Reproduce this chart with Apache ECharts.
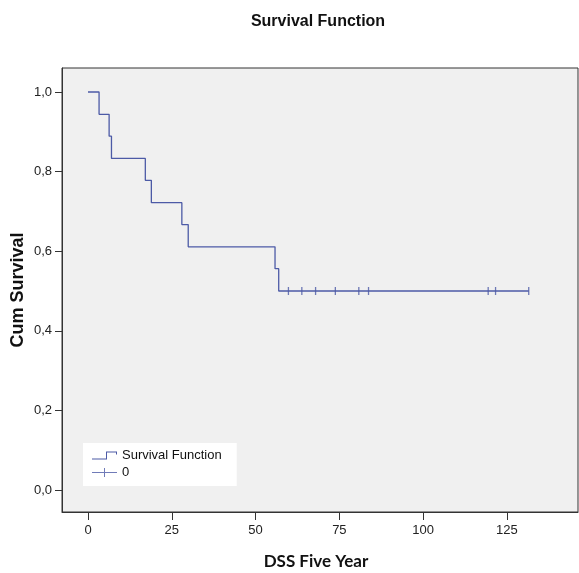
<!DOCTYPE html>
<html>
<head>
<meta charset="utf-8">
<script src="https://cdn.jsdelivr.net/npm/echarts@6/dist/echarts.min.js"></script>
<style>
html,body{margin:0;padding:0;background:#fff;}
#chart{width:579px;height:573px;}
</style>
</head>
<body>
<div id="chart"></div>
<script>
// Kaplan-Meier data
const startPoint = [0, 1.0];
const eventTimes = [3.3, 6.3, 7.0, 17.1, 18.9, 28.0, 29.9, 55.8, 56.9];
const survivalAfterEvent = [0.944, 0.889, 0.833, 0.778, 0.722, 0.667, 0.611, 0.556, 0.5];
const censorTimes = [59.8, 63.8, 67.9, 73.8, 80.8, 83.7, 119.4, 121.6, 131.5];
const censorSurvival = [0.5, 0.5, 0.5, 0.5, 0.5, 0.5, 0.5, 0.5, 0.5];
const xTicks = [0, 25, 50, 75, 100, 125];
const yTicks = [0, 0.2, 0.4, 0.6, 0.8, 1.0];

const lineColor = '#4c5aa6';

const stepData = [startPoint];
eventTimes.forEach((t, i) => stepData.push([t, survivalAfterEvent[i]]));
const lastCensor = censorTimes[censorTimes.length - 1];
stepData.push([lastCensor, censorSurvival[censorSurvival.length - 1]]);

const censorData = censorTimes.map((t, i) => [t, censorSurvival[i]]);

const stepIcon = 'path://M0,7 L14,7 L14,0 L25,0 L25,3 L24,3 L24,1 L15,1 L15,8 L0,8 Z';
const crossIcon = 'path://M0,4 L12,4 L12,0 L13,0 L13,4 L25,4 L25,5 L13,5 L13,9 L12,9 L12,5 L0,5 Z';

const chart = echarts.init(document.getElementById('chart'), null, {renderer: 'canvas'});
chart.setOption({
  animation: false,
  backgroundColor: '#ffffff',
  title: {
    text: 'Survival Function',
    left: 313,
    top: 9,
    textAlign: 'center',
    textStyle: {fontFamily: 'Liberation Sans', fontWeight: 'bold', fontSize: 16, color: '#111'}
  },
  grid: {
    left: 62, right: 1, top: 68, bottom: 61,
    containLabel: false,
    outerBoundsMode: 'none',
    show: true, backgroundColor: '#f0f0f0', borderColor: '#333', borderWidth: 1
  },
  legend: {
    left: 83, top: 443,
    orient: 'vertical',
    backgroundColor: '#ffffff',
    padding: [6, 15, 7, 9],
    itemGap: 4,
    itemWidth: 25, itemHeight: 9,
    textStyle: {fontFamily: 'Liberation Sans', fontSize: 13, color: '#111'},
    data: [
      {name: 'Survival Function', icon: stepIcon},
      {name: '0', icon: crossIcon}
    ]
  },
  xAxis: {
    type: 'value',
    min: -7.76, max: 146.2,
    name: 'DSS Five Year',
    nameLocation: 'middle',
    nameGap: 41,
    nameMoveOverlap: false,
    nameTextStyle: {fontFamily: 'Lato', fontWeight: 'bold', fontSize: 17, color: '#111', padding: [0, 8, 0, 0]},
    axisLine: {show: true, onZero: false, lineStyle: {color: '#333'}},
    axisTick: {show: true, length: 8, customValues: xTicks, lineStyle: {color: '#333'}},
    axisLabel: {margin: 12, customValues: xTicks, fontFamily: 'Liberation Sans', fontSize: 13, color: '#222'},
    splitLine: {show: false}
  },
  yAxis: {
    type: 'value',
    min: -0.0553, max: 1.0603,
    name: 'Cum Survival',
    nameLocation: 'middle',
    nameRotate: 90,
    nameGap: 35,
    nameMoveOverlap: false,
    nameTextStyle: {fontFamily: 'Liberation Sans', fontWeight: 'bold', fontSize: 18, color: '#111'},
    axisLine: {show: true, onZero: false, lineStyle: {color: '#333'}},
    axisTick: {show: true, length: 7, customValues: yTicks, lineStyle: {color: '#333'}},
    axisLabel: {
      margin: 10, customValues: yTicks, fontFamily: 'Liberation Sans', fontSize: 13, color: '#222',
      formatter: v => v.toFixed(1).replace('.', ',')
    },
    splitLine: {show: false}
  },
  series: [
    {
      name: 'Survival Function',
      type: 'line',
      step: 'end',
      data: stepData,
      showSymbol: false,
      symbol: 'none',
      lineStyle: {color: lineColor, width: 1.3},
      itemStyle: {color: lineColor}
    },
    {
      name: '0',
      type: 'scatter',
      data: censorData,
      symbol: 'rect',
      symbolSize: [1.3, 8],
      itemStyle: {color: lineColor}
    }
  ]
});
</script>
</body>
</html>
